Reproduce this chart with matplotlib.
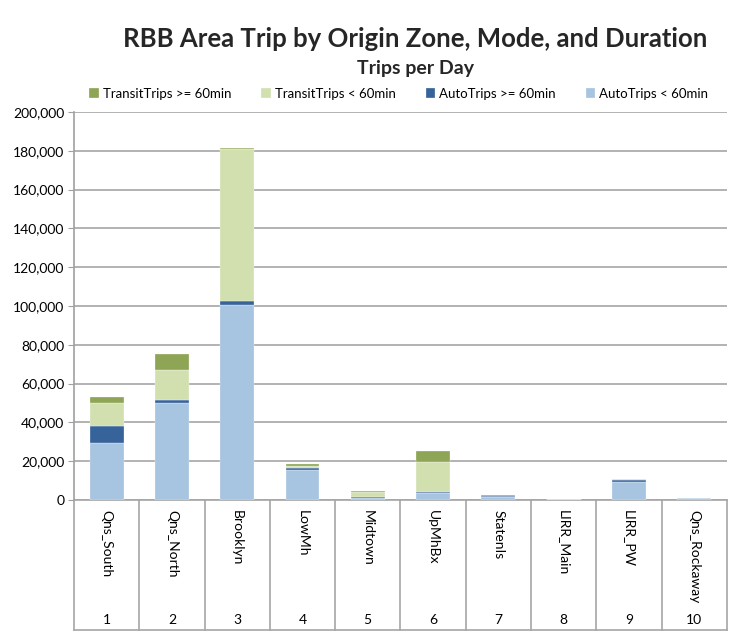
import numpy as np
import matplotlib
matplotlib.use('Agg')
import matplotlib.pyplot as plt
import matplotlib.transforms as mtransforms
from matplotlib.ticker import FuncFormatter

plt.rcParams['font.family'] = ['Lato', 'DejaVu Sans']

# ---------------------------------------------------------------------------
# Data (trips per day)
# ---------------------------------------------------------------------------
zones = ['Qns_South', 'Qns_North', 'Brooklyn', 'LowMh', 'Midtown',
         'UpMhBx', 'StatenIs', 'LIRR_Main', 'LIRR_PW', 'Qns_Rockaway']
zone_ids = ['1', '2', '3', '4', '5', '6', '7', '8', '9', '10']

auto_lt60 = [29400, 49800, 100300, 15500, 1200, 3800, 1700, 400, 9100, 1000]
auto_ge60 = [8900, 1600, 2100, 800, 100, 400, 100, 0, 1400, 0]
transit_lt60 = [11700, 15800, 78500, 1400, 2700, 15400, 400, 100, 100, 100]
transit_ge60 = [2900, 7900, 600, 900, 800, 5800, 500, 0, 0, 0]

series = [
    ('AutoTrips < 60min', auto_lt60, '#a7c4e0'),
    ('AutoTrips >= 60min', auto_ge60, '#36639a'),
    ('TransitTrips < 60min', transit_lt60, '#d2e0b0'),
    ('TransitTrips >= 60min', transit_ge60, '#8fa556'),
]

fig = plt.figure(figsize=(7.29, 6.32), dpi=100)
ax = fig.add_axes([0.1015, 0.2089, 0.8955, 0.6139])

x = np.arange(1, len(zones) + 1)
bottom = np.zeros(len(zones))
handles = {}
for label, vals, color in series:
    vals = np.array(vals, dtype=float)
    h = ax.bar(x, vals, width=0.52, bottom=bottom, color=color,
               edgecolor='white', linewidth=0.2, zorder=3, label=label)
    handles[label] = h
    bottom += vals

ax.set_xlim(0.5, len(zones) + 0.5)
ax.set_ylim(0, 200000)
ax.set_yticks(np.arange(0, 200001, 20000))
ax.yaxis.set_major_formatter(FuncFormatter(lambda v, p: f'{int(v):,}'))
ax.tick_params(axis='y', labelsize=10, length=4, color='#a0a0a0', pad=3)
ax.grid(axis='y', color='#a6a6a6', linewidth=1.2, zorder=0)
ax.set_xticks([])
for s in ['top', 'right', 'bottom']:
    ax.spines[s].set_visible(False)
ax.spines['left'].set_color('#a0a0a0')
ax.spines['left'].set_linewidth(1.2)

# multi-level category axis drawn below the plot
trans = mtransforms.blended_transform_factory(ax.transData, ax.transAxes)
depth = -0.335
for b in np.arange(0.5, len(zones) + 1, 1.0):
    ax.plot([b, b], [0, depth], transform=trans, color='#a6a6a6',
            lw=1.2, clip_on=False)
ax.plot([0.5, len(zones) + 0.5], [depth, depth], transform=trans,
        color='#a6a6a6', lw=1.2, clip_on=False)
ax.plot([0.5, len(zones) + 0.5], [0, 0], transform=trans,
        color='#a6a6a6', lw=1.2, clip_on=False)
for xi, name, num in zip(x, zones, zone_ids):
    ax.text(xi, -0.025, name, transform=trans, rotation=270,
            ha='center', va='top', fontsize=10)
    ax.text(xi, -0.31, num, transform=trans, ha='center', va='center',
            fontsize=10)

# titles
fig.text(0.570, 0.938, 'RBB Area Trip by Origin Zone, Mode, and Duration',
         ha='center', va='center', fontsize=18.5, fontweight='bold',
         color='#262626')
fig.text(0.570, 0.892, 'Trips per Day', ha='center', va='center',
         fontsize=14, fontweight='bold', color='#262626')

order = ['TransitTrips >= 60min', 'TransitTrips < 60min',
         'AutoTrips >= 60min', 'AutoTrips < 60min']
fig.legend([handles[k] for k in order], order, loc='center',
           bbox_to_anchor=(0.547, 0.852), ncol=4, frameon=False,
           fontsize=9.5, handlelength=0.7, handleheight=0.7,
           handletextpad=0.3, columnspacing=2.3)

fig.savefig('out.png', dpi=100)
